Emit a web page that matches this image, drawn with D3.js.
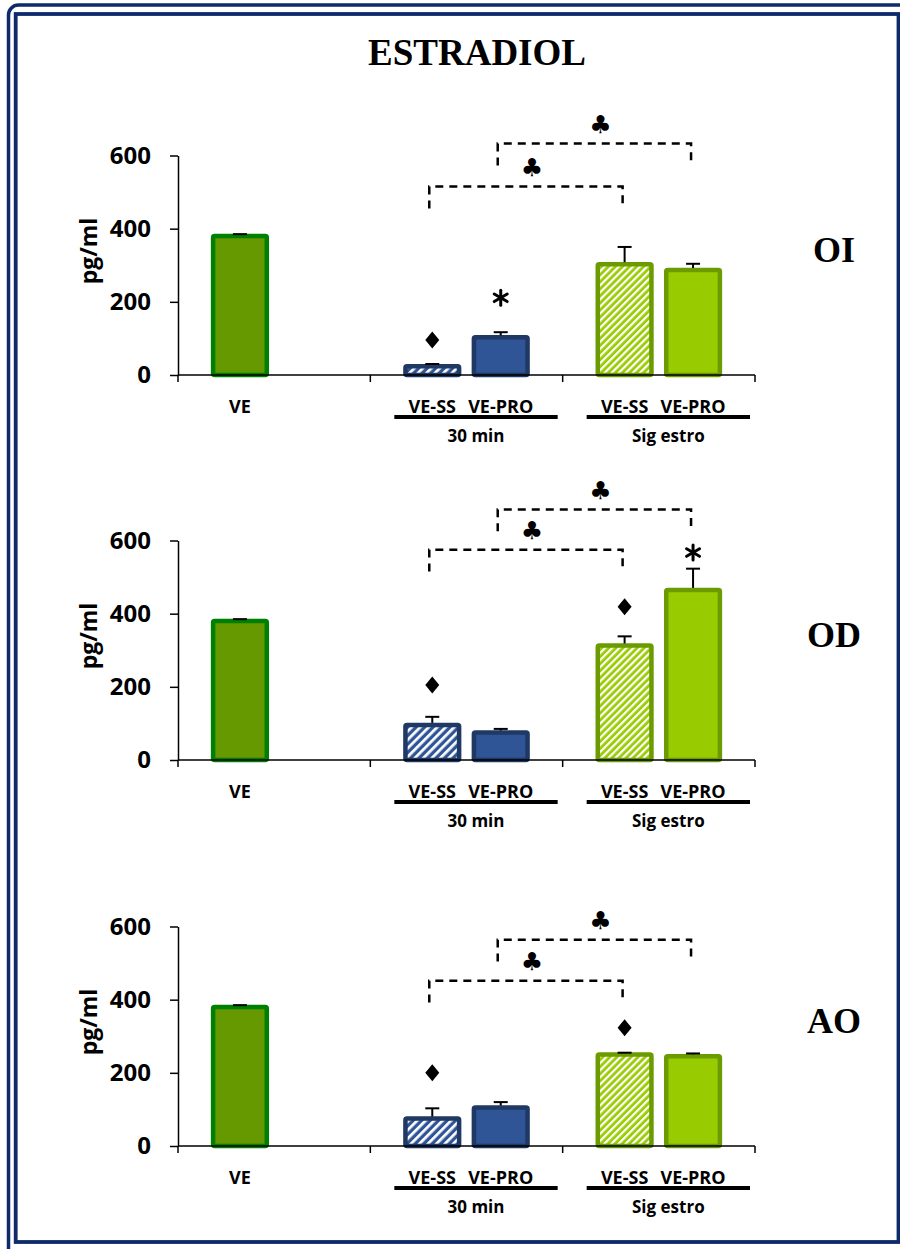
<!DOCTYPE html>
<html>
<head>
<meta charset="utf-8">
<title>Estradiol</title>
<style>
  body {margin: 0; background: #fff;}
  svg {font-family: "Open Sans", sans-serif;}
  .serif {font-family: "Liberation Serif", "Times New Roman", serif; font-weight: bold;}
</style>
</head>
<body>
<svg width="900" height="1249"></svg>
<script src="https://d3js.org/d3.v7.min.js"></script>
<script>
// categories
var groups = ["VE", "30 min", "Sig estro"];
var barLabels = ["VE", "VE-SS", "VE-PRO", "VE-SS", "VE-PRO"];
var barGroup = ["VE", "30 min", "30 min", "Sig estro", "Sig estro"];
var barSlot = ["a", "a", "b", "a", "b"];
var yTicks = [0, 200, 400, 600];
var panels = ["OI", "OD", "AO"];

// means and error (pg/ml)
var meansOI = [380, 24, 103, 303, 287];
var errOI   = [5, 6, 14, 47, 17];
var meansOD = [380, 96, 75, 313, 465];
var errOD   = [5, 22, 10, 25, 58];
var meansAO = [380, 75, 105, 250, 245];
var errAO   = [5, 28, 15, 5, 8];

// significance marks: [bar, symbol, value]
var marksOI = [[1, "diamond", 96], [2, "star", 211]];
var marksOD = [[1, "diamond", 205], [3, "diamond", 419], [4, "star", 567]];
var marksAO = [[1, "diamond", 200], [3, "diamond", 323]];

// brackets: [from bar, to bar, top value]
var bracketsOI = [[2, 4, 633], [1, 3, 515]];
var bracketsOD = [[2, 4, 685], [1, 3, 575]];
var bracketsAO = [[2, 4, 564], [1, 3, 452]];

var panelData = [
  {name: "OI", means: meansOI, err: errOI, marks: marksOI, brackets: bracketsOI},
  {name: "OD", means: meansOD, err: errOD, marks: marksOD, brackets: bracketsOD},
  {name: "AO", means: meansAO, err: errAO, marks: marksAO, brackets: bracketsAO}
];

// styles
var fills   = ["#669900", "url(#hatchBlue)", "#2f5597", "url(#hatchGreen)", "#99cc00"];
var strokes = ["#008000", "#1f3864", "#1f3864", "#6b9b00", "#6b9b00"];
var navy = "#0d2a6b";

var svg = d3.select("svg");

// hatch patterns
var defs = svg.append("defs");
function hatch(id, base, size) {
  var p = defs.append("pattern")
    .attr("id", id)
    .attr("patternUnits", "userSpaceOnUse")
    .attr("width", size).attr("height", size)
    .attr("patternTransform", "rotate(45)");
  p.append("rect").attr("width", size).attr("height", size).attr("fill", base);
  p.append("rect").attr("width", size * 0.45).attr("height", size).attr("fill", "#fff");
}
hatch("hatchBlue", "#2f5597", 6);
hatch("hatchGreen", "#99cc00", 5);

// frame
svg.append("rect").attr("x", 8.5).attr("y", 5).attr("width", 930).attr("height", 1270)
  .attr("rx", 10).attr("fill", "none").attr("stroke", navy).attr("stroke-width", 3.5);
svg.append("rect").attr("x", 15.7).attr("y", 14).attr("width", 882.8).attr("height", 1228)
  .attr("fill", "none").attr("stroke", navy).attr("stroke-width", 3.8);

svg.append("text").attr("class", "serif")
  .attr("x", 477).attr("y", 65)
  .attr("text-anchor", "middle")
  .style("font-size", "37px")
  .text("ESTRADIOL");

var zeros = [375, 760, 1146];

var x0 = d3.scaleBand().domain(groups).range([178, 755]);
var x1 = d3.scaleBand().domain(["a", "b"]).range([0, x0.bandwidth()])
  .paddingInner(0.15).paddingOuter(0.48);
var bw = x1.bandwidth();
function cx(i) { return x0(barGroup[i]) + x1(barSlot[i]) + bw / 2; }

panelData.forEach(function(pd, k) {
  var zero = zeros[k];
  var y = d3.scaleLinear().domain([0, 600]).range([zero, zero - 219.5]);
  var g = svg.append("g");

  // y axis
  var ax = g.append("g")
    .attr("transform", "translate(178,0)")
    .call(d3.axisLeft(y).tickValues(yTicks).tickSize(8).tickSizeOuter(0).tickPadding(19));
  ax.selectAll("text").style("font-size", "24px").style("font-weight", "bold")
    .style("font-family", "'Open Sans', sans-serif").attr("fill", "#000");
  ax.selectAll("line, path").attr("stroke", "#000").attr("stroke-width", 1.5);

  // bars
  pd.means.forEach(function(v, i) {
    var xb = x0(barGroup[i]) + x1(barSlot[i]);
    g.append("rect")
      .attr("x", xb + 2.25).attr("y", y(v))
      .attr("width", bw - 4.5).attr("height", y(0) - y(v))
      .attr("rx", 1.5)
      .attr("fill", fills[i]).attr("stroke", strokes[i]).attr("stroke-width", 4.5);
    var c = cx(i), top = y(v + pd.err[i]);
    g.append("line").attr("x1", c).attr("x2", c).attr("y1", y(v) - 2).attr("y2", top)
      .attr("stroke", "#000").attr("stroke-width", 2);
    g.append("line").attr("x1", c - 7).attr("x2", c + 7).attr("y1", top).attr("y2", top)
      .attr("stroke", "#000").attr("stroke-width", 2);
  });

  // x axis line + boundary ticks
  g.append("line").attr("x1", 178).attr("x2", 755).attr("y1", zero).attr("y2", zero)
    .attr("stroke", "#000").attr("stroke-width", 1.5);
  groups.map(function(d) { return x0(d); }).concat([x0.range()[1]]).forEach(function(t) {
    g.append("line").attr("x1", t).attr("x2", t).attr("y1", zero).attr("y2", zero + 7)
      .attr("stroke", "#000").attr("stroke-width", 1.5);
  });

  // bar labels
  barLabels.forEach(function(lab, i) {
    g.append("text").attr("x", cx(i)).attr("y", zero + 38)
      .attr("text-anchor", "middle")
      .style("font-size", "18px").style("font-weight", "bold")
      .text(lab);
  });

  // group underline and labels
  groups.slice(1).forEach(function(gr) {
    var a = x0(gr) + 24, b = x0(gr) + x0.bandwidth() - 5;
    g.append("line").attr("x1", a).attr("x2", b).attr("y1", zero + 42).attr("y2", zero + 42)
      .attr("stroke", "#000").attr("stroke-width", 4);
    g.append("text").attr("x", (a + b) / 2).attr("y", zero + 67)
      .attr("text-anchor", "middle")
      .style("font-size", "17px").style("font-weight", "bold")
      .text(gr);
  });

  // y title
  g.append("text")
    .attr("transform", "translate(88," + (zero - 124) + ") rotate(-90)")
    .attr("text-anchor", "middle").attr("dominant-baseline", "central")
    .style("font-size", "23px").style("font-weight", "bold")
    .text("pg/ml");

  // panel name
  g.append("text").attr("class", "serif")
    .attr("x", 834).attr("y", zero - 113)
    .attr("text-anchor", "middle")
    .style("font-size", "36px")
    .text(pd.name);

  // significance marks
  pd.marks.forEach(function(m) {
    var mx = cx(m[0]), my = y(m[2]);
    if (m[1] === "diamond") {
      g.append("path")
        .attr("d", "M" + mx + "," + (my - 8.5) + "L" + (mx + 7) + "," + my +
                   "L" + mx + "," + (my + 8.5) + "L" + (mx - 7) + "," + my + "Z")
        .attr("fill", "#000");
    } else {
      [90, 30, -30].forEach(function(a) {
        var r = a * Math.PI / 180, dx = 7.5 * Math.cos(r), dy = 7.5 * Math.sin(r);
        g.append("line")
          .attr("x1", mx - dx).attr("y1", my - dy).attr("x2", mx + dx).attr("y2", my + dy)
          .attr("stroke", "#000").attr("stroke-width", 3).attr("stroke-linecap", "round");
      });
    }
  });

  // dashed brackets with clubs
  pd.brackets.forEach(function(b) {
    var xa = cx(b[0]) - 3, xb = cx(b[1]) - 2;
    var top = y(b[2]), bot = y(b[2] - 60);
    g.append("path")
      .attr("d", "M" + xa + "," + bot + "L" + xa + "," + top + "L" + xb + "," + top + "L" + xb + "," + bot)
      .attr("fill", "none").attr("stroke", "#000").attr("stroke-width", 2.5)
      .attr("stroke-dasharray", "8,6");
    g.append("text")
      .attr("x", (xa + xb) / 2 + 6).attr("y", top - 19)
      .attr("text-anchor", "middle").attr("dominant-baseline", "central")
      .style("font-family", "'DejaVu Sans', sans-serif").style("font-size", "25px")
      .text("\u2663");
  });
});
</script>
</body>
</html>
